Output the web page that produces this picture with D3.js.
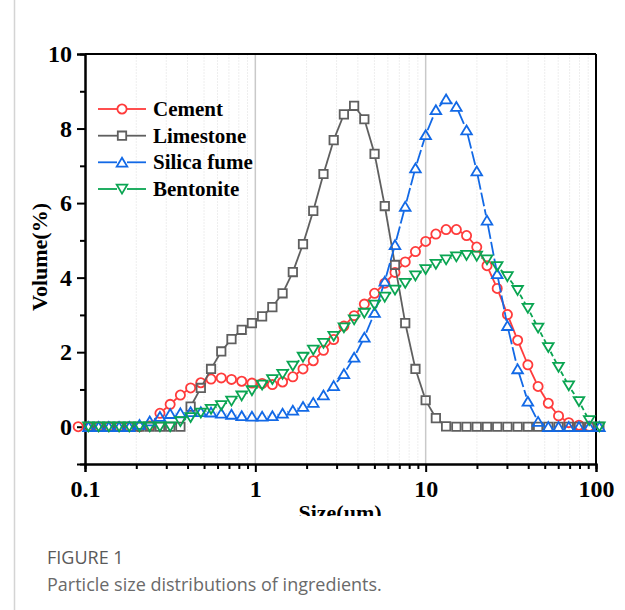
<!DOCTYPE html>
<html>
<head>
<meta charset="utf-8">
<script src="https://cdn.jsdelivr.net/npm/d3@7/dist/d3.min.js"></script>
<style>
  html, body { margin: 0; padding: 0; background: #fff; }
  svg { display: block; }
</style>
</head>
<body>
<svg id="chart" width="625" height="610"></svg>
<script>
// ---------- DATA ----------
// particle size bins (um)
const sizeBins = [0.0912, 0.1047, 0.1202, 0.1380, 0.1585, 0.1820, 0.2089, 0.2399, 0.2754, 0.3162,
  0.3631, 0.4169, 0.4786, 0.5495, 0.6310, 0.7244, 0.8318, 0.9550, 1.096, 1.259,
  1.445, 1.660, 1.905, 2.188, 2.512, 2.884, 3.311, 3.802, 4.365, 5.012,
  5.754, 6.607, 7.586, 8.710, 10.00, 11.48, 13.18, 15.14, 17.38, 19.95,
  22.91, 26.30, 30.20, 34.67, 39.81, 45.71, 52.48, 60.26, 69.18, 79.43,
  91.20, 104.7];

const cement = [0, 0, 0, 0, 0, 0, 0, 0.02, 0.36, 0.60,
  0.85, 1.04, 1.18, 1.28, 1.31, 1.27, 1.22, 1.17, 1.16, 1.13,
  1.20, 1.34, 1.55, 1.77, 2.05, 2.34, 2.70, 2.98, 3.29, 3.58,
  3.85, 4.14, 4.42, 4.70, 4.97, 5.17, 5.29, 5.29, 5.13, 4.82,
  4.32, 3.71, 3.01, 2.32, 1.66, 1.08, 0.63, 0.29, 0.11, 0.04,
  0.01, null];

const limestone = [null, 0, 0, 0, 0, 0, 0, 0, 0, 0,
  0, 0.54, 1.04, 1.55, 2.02, 2.35, 2.60, 2.78, 2.96, 3.21,
  3.58, 4.15, 4.90, 5.79, 6.78, 7.69, 8.38, 8.61, 8.25, 7.32,
  5.92, 4.34, 2.78, 1.55, 0.71, 0.23, 0.01, 0, 0, 0,
  0, 0, 0, 0, 0, 0, 0, 0, 0, 0,
  0, 0];

const silicaFume = [null, 0, 0, 0, 0, 0, 0.06, 0.15, 0.27, 0.35,
  0.37, 0.40, 0.40, 0.39, 0.36, 0.33, 0.29, 0.28, 0.28, 0.29,
  0.36, 0.44, 0.54, 0.65, 0.85, 1.10, 1.42, 1.86, 2.40, 3.06,
  3.90, 4.88, 5.91, 6.94, 7.83, 8.50, 8.79, 8.59, 7.96, 6.86,
  5.54, 4.10, 2.71, 1.55, 0.68, 0.14, 0, 0, 0, 0,
  0, 0];

const bentonite = [null, 0, 0, 0, 0, 0, 0, 0, 0, 0,
  0.14, 0.25, 0.37, 0.47, 0.57, 0.69, 0.83, 0.97, 1.12, 1.27,
  1.41, 1.63, 1.87, 2.06, 2.24, 2.43, 2.66, 2.87, 3.05, 3.27,
  3.48, 3.67, 3.85, 4.05, 4.22, 4.36, 4.48, 4.56, 4.60, 4.58,
  4.48, 4.30, 4.03, 3.66, 3.18, 2.65, 2.13, 1.60, 1.10, 0.68,
  0.17, 0];

const seriesNames = ["Cement", "Limestone", "Silica fume", "Bentonite"];
const seriesValues = [cement, limestone, silicaFume, bentonite];
const seriesColors = ["#ff3b3b", "#5f5f5f", "#1269e6", "#0aa552"];
const seriesSymbols = ["circle", "square", "triUp", "triDown"];
const seriesDash = [null, null, "14,3", "5,3"];

const yMajorTicks = [0, 2, 4, 6, 8, 10];
const yMinorTicks = [1, 3, 5, 7, 9];
const xMajorTicks = [0.1, 1, 10, 100];
const xMinorTicks = [0.2, 0.3, 0.4, 0.5, 0.6, 0.7, 0.8, 0.9, 2, 3, 4, 5, 6, 7, 8, 9, 20, 30, 40, 50, 60, 70, 80, 90];

const figureLabel = "FIGURE 1";
const captionText = "Particle size distributions of ingredients.";
const xTitle = "Size(um)";
const yTitle = "Volume(%)";

// ---------- LAYOUT ----------
const svg = d3.select("#chart");
const L = 85, R = 596, T = 54, B = 464;
const x = d3.scaleLog().domain([0.1, 100]).range([L, R]);
const y = d3.scaleLinear().domain([-1, 10]).range([B, T]);
const serif = "'Liberation Serif','Times New Roman',serif";
const sans = "'Open Sans','Noto Sans',sans-serif";

// card left border
svg.append("line").attr("x1", 14.5).attr("x2", 14.5).attr("y1", 0).attr("y2", 610)
  .attr("stroke", "#d4d4d4").attr("stroke-width", 1.5);

svg.append("defs").append("clipPath").attr("id", "figclip")
  .append("rect").attr("x", 0).attr("y", 0).attr("width", 625).attr("height", 516);

const fig = svg.append("g").attr("clip-path", "url(#figclip)");

// grid
fig.append("g").selectAll("line").data(xMinorTicks).join("line")
  .attr("x1", d => x(d)).attr("x2", d => x(d)).attr("y1", T).attr("y2", B)
  .attr("stroke", "#eeeeee").attr("stroke-width", 1).attr("stroke-dasharray", "2,1");
fig.append("g").selectAll("line").data([1, 10]).join("line")
  .attr("x1", d => x(d)).attr("x2", d => x(d)).attr("y1", T).attr("y2", B)
  .attr("stroke", "#c9c9c9").attr("stroke-width", 1.5);

// frame top/right
fig.append("line").attr("x1", L).attr("x2", R).attr("y1", T).attr("y2", T)
  .attr("stroke", "#000").attr("stroke-width", 2);
fig.append("line").attr("x1", R).attr("x2", R).attr("y1", T).attr("y2", B)
  .attr("stroke", "#000").attr("stroke-width", 2);

// axes
function styleAxis(g) {
  g.attr("font-family", serif).attr("font-size", 24);
  g.select(".domain").attr("stroke", "#000").attr("stroke-width", 2);
  g.selectAll(".tick line").attr("stroke", "#000").attr("stroke-width", 2);
  g.selectAll(".tick text").attr("font-family", serif).attr("font-weight", "bold")
    .attr("font-size", "24px").attr("fill", "#000");
}
fig.append("g").attr("transform", `translate(${L},0)`)
  .call(d3.axisLeft(y).tickValues(yMinorTicks).tickSize(5).tickFormat(""))
  .call(styleAxis);
fig.append("g").attr("transform", `translate(${L},0)`)
  .call(d3.axisLeft(y).tickValues(yMajorTicks).tickSize(8).tickPadding(5).tickFormat(d3.format("d")))
  .call(styleAxis);
fig.append("g").attr("transform", `translate(0,${B})`)
  .call(d3.axisBottom(x).tickValues(xMinorTicks).tickSize(5).tickFormat(""))
  .call(styleAxis);
fig.append("g").attr("transform", `translate(0,${B})`)
  .call(d3.axisBottom(x).tickValues(xMajorTicks).tickSize(8).tickPadding(8).tickFormat(d => String(d)))
  .call(styleAxis);

// titles
fig.append("text").attr("x", 340).attr("y", 520).attr("text-anchor", "middle")
  .attr("font-family", serif).attr("font-weight", "bold").attr("font-size", "22px").text(xTitle);
fig.append("text").attr("transform", "translate(47,257) rotate(-90)").attr("text-anchor", "middle")
  .attr("font-family", serif).attr("font-weight", "bold").attr("font-size", "22px").text(yTitle);

// symbols
function symbolPath(type) {
  switch (type) {
    case "circle": return "M-4.6,0a4.6,4.6 0 1,0 9.2,0a4.6,4.6 0 1,0 -9.2,0Z";
    case "square": return "M-4.2,-4.2H4.2V4.2H-4.2Z";
    case "triUp": return "M0,-4.6L5.3,4.3L-5.3,4.3Z";
    case "triDown": return "M0,4.6L5.3,-4.3L-5.3,-4.3Z";
  }
}
const gapR = 5;

const plot = fig.append("g");
seriesValues.forEach((vals, si) => {
  const pts = [];
  vals.forEach((v, i) => { if (v !== null) pts.push([x(sizeBins[i]), y(v)]); });
  const g = plot.append("g");
  const segs = [];
  for (let i = 0; i < pts.length - 1; i++) {
    const [x1, y1] = pts[i], [x2, y2] = pts[i + 1];
    const dx = x2 - x1, dy = y2 - y1, len = Math.hypot(dx, dy);
    if (len <= 2 * gapR) continue;
    const ux = dx / len, uy = dy / len;
    segs.push([x1 + ux * gapR, y1 + uy * gapR, x2 - ux * gapR, y2 - uy * gapR]);
  }
  g.selectAll("line").data(segs).join("line")
    .attr("x1", d => d[0]).attr("y1", d => d[1]).attr("x2", d => d[2]).attr("y2", d => d[3])
    .attr("stroke", seriesColors[si]).attr("stroke-width", 1.8)
    .attr("stroke-dasharray", seriesDash[si]);
  g.selectAll("path").data(pts).join("path")
    .attr("transform", d => `translate(${d[0]},${d[1]})`)
    .attr("d", symbolPath(seriesSymbols[si]))
    .attr("fill", "none").attr("stroke", seriesColors[si]).attr("stroke-width", 1.8);
});

// legend
const legY = [109, 135.7, 162.3, 189];
const leg = fig.append("g");
seriesNames.forEach((name, si) => {
  const row = leg.append("g").attr("transform", `translate(0,${legY[si]})`);
  row.append("line").attr("x1", 98).attr("x2", 117).attr("y1", 0).attr("y2", 0)
    .attr("stroke", seriesColors[si]).attr("stroke-width", 1.8);
  row.append("line").attr("x1", 127).attr("x2", 146).attr("y1", 0).attr("y2", 0)
    .attr("stroke", seriesColors[si]).attr("stroke-width", 1.8);
  row.append("path").attr("transform", "translate(122,0)").attr("d", symbolPath(seriesSymbols[si]))
    .attr("fill", "none").attr("stroke", seriesColors[si]).attr("stroke-width", 1.8);
  row.append("text").attr("x", 153).attr("y", 7).attr("font-family", serif)
    .attr("font-weight", "bold").attr("font-size", "21px").attr("fill", "#000").text(name);
});

// caption
svg.append("text").attr("x", 47).attr("y", 564).attr("font-family", sans)
  .attr("font-size", "18px").attr("fill", "#5a5a5a").text(figureLabel);
svg.append("text").attr("x", 47).attr("y", 591).attr("font-family", sans)
  .attr("font-size", "18px").attr("fill", "#6a6a6a").text(captionText);
</script>
</body>
</html>
